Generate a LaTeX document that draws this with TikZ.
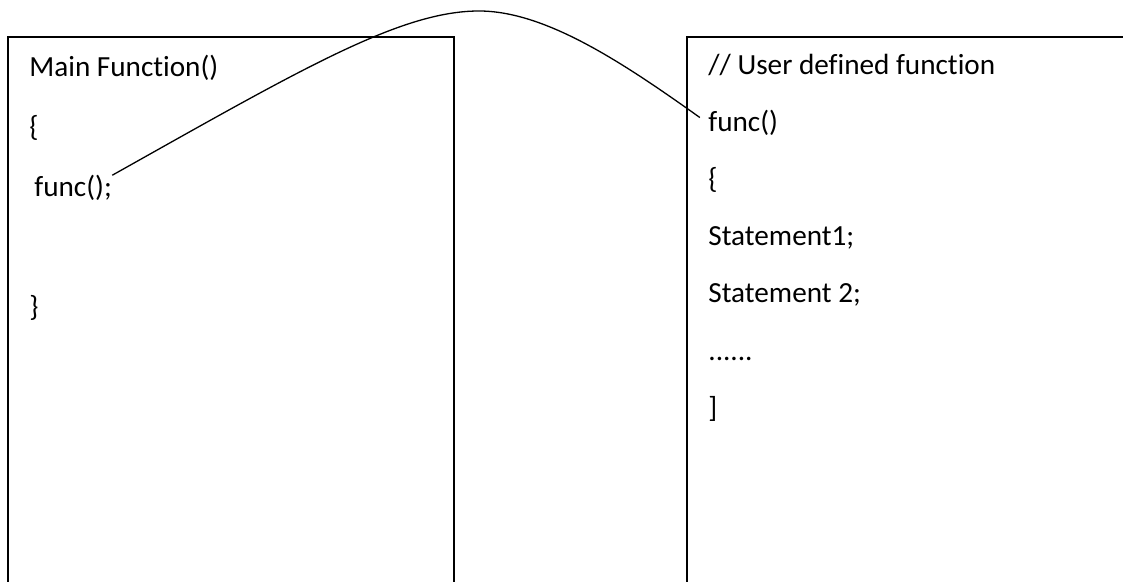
\documentclass[tikz,border=0pt]{standalone}
\usepackage{fontspec}
\setmainfont{Carlito}[Ligatures=NoCommon]
\usetikzlibrary{positioning, calc}

\begin{document}
\begin{tikzpicture}[x=0.5pt, y=-0.5pt,
    code/.style={anchor=base west, inner sep=0pt, font=\fontsize{14.6pt}{17pt}\selectfont},
    frame/.style={line width=1pt},
    link/.style={line width=0.65pt}]
    \useasboundingbox (0,0) rectangle (1123,582);

    % Boxes (open at the bottom)
    \draw[frame] (8,582) |- (454,37) -- (454,582);
    \draw[frame] (687,582) |- (1123,37);

    % Main function
    \node[code] (mainhead) at (29,77) {Main Function()};
    \node[code] (mainopen) at (29,137) {\{};
    \node[code] (callL) at (34,197) {func();};
    \node[code] (mainclose) at (29,317) {\}};

    % User defined function
    \node[code] (comment) at (708,75) {// User defined function};
    \node[code] (fdef) at (708,132) {func()};
    \node[code] (fopen) at (708,189) {\{};
    \node[code] (stmtA) at (708,246) {Statement1;};
    \node[code] (stmtB) at (708,303) {Statement 2;};
    \node[code] (dots) at (708,360) {......};
    \node[code] (fclose) at (708,417) {]};

    % Call link
    \coordinate (peak) at (479,11);
    \draw[link, shorten >=5pt] (callL.north east) .. controls (300,70) and (400,11) .. (peak)
        .. controls (545,11) and (622,62) .. (fdef.west);
\end{tikzpicture}
\end{document}
